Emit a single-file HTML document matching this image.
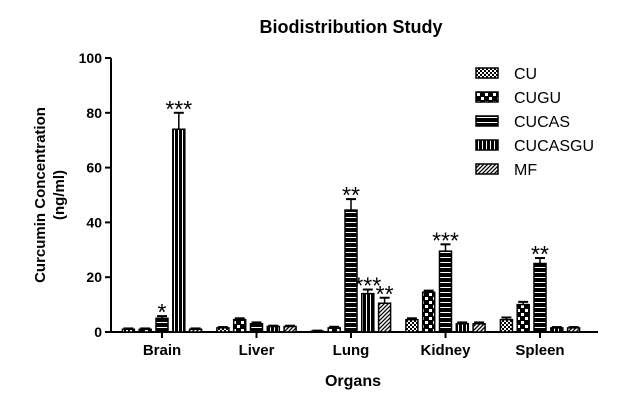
<!DOCTYPE html>
<html><head><meta charset="utf-8"><style>
body{margin:0;background:#fff}
text{font-family:"Liberation Sans",Arial,sans-serif;font-weight:bold;fill:#000}
text.n{font-weight:normal}
</style></head><body>
<svg width="618" height="402" xmlns="http://www.w3.org/2000/svg">
<defs>
<pattern id="pCU" width="4" height="4" patternUnits="userSpaceOnUse"><rect width="4" height="4" fill="#000"/><rect width="2" height="2" fill="#fff"/><rect x="2" y="2" width="2" height="2" fill="#fff"/></pattern>
<pattern id="pCUGU" width="8" height="8" patternUnits="userSpaceOnUse"><rect width="8" height="8" fill="#000"/><rect x="1" y="1" width="3" height="3" fill="#fff"/><rect x="5" y="5" width="3" height="3" fill="#fff"/></pattern>
<pattern id="pCUCAS" width="4" height="5" patternUnits="userSpaceOnUse"><rect width="4" height="5" fill="#000"/><rect y="2" width="4" height="1" fill="#fff"/></pattern>
<pattern id="pCUCASGU" width="4" height="4" patternUnits="userSpaceOnUse"><rect width="4" height="4" fill="#000"/><rect x="2" width="1" height="4" fill="#fff"/></pattern>
<pattern id="pMF" width="4" height="4" patternUnits="userSpaceOnUse"><rect width="4" height="4" fill="#fff"/><path d="M-1,1 l2,-2 M0,4 l4,-4 M3,5 l2,-2" stroke="#000" stroke-width="1.3"/></pattern>
</defs>
<text x="351" y="33" text-anchor="middle" font-size="18">Biodistribution Study</text>
<g id="axes"></g>
<g id="bars"></g>
<g id="legend"></g>
<text transform="translate(45,195) rotate(-90)" text-anchor="middle" font-size="15">Curcumin Concentration</text>
<text transform="translate(64,195) rotate(-90)" text-anchor="middle" font-size="15">(ng/ml)</text>
<text x="353" y="386" text-anchor="middle" font-size="16">Organs</text>
</svg>
<script>
const categories=["Brain","Liver","Lung","Kidney","Spleen"];
const seriesNames=["CU","CUGU","CUCAS","CUCASGU","MF"];
const CU=[1,1.5,0.3,4.5,4.5];
const CUGU=[1,4.5,1.5,14.5,10];
const CUCAS=[5,3,44.5,29.5,25];
const CUCASGU=[74,2,14,3,1.5];
const MF=[1,2,10.5,3,1.5];
const errCU=[0.3,0.3,0.2,0.5,0.8];
const errCUGU=[0.3,0.5,0.4,0.6,1];
const errCUCAS=[0.8,0.5,4,2.5,2];
const errCUCASGU=[6,0.3,1.5,0.5,0.3];
const errMF=[0.3,0.3,2,0.5,0.3];
const stars=[[null,null,"*","***",null],[null,null,null,null,null],[null,null,"**","***","**"],[null,null,"***",null,null],[null,null,"**",null,null]];
const yTicks=[0,20,40,60,80,100];
const series=[CU,CUGU,CUCAS,CUCASGU,MF];
const errs=[errCU,errCUGU,errCUCAS,errCUCASGU,errMF];
const NS="http://www.w3.org/2000/svg";
const y0=332,y1=58,xl=111,xr=598;
const ys=v=>y0-(y0-y1)*v/100;
const xc=i=>162+i*94.5;
const bx=(i,s)=>xc(i)+(s-2)*16.8;
function mk(t,a,p){const e=document.createElementNS(NS,t);for(const k in a)e.setAttribute(k,a[k]);p.appendChild(e);return e;}
const ax=document.getElementById('axes');
let l=mk('line',{x1:xl,y1:y1,x2:xl,y2:y0,stroke:'#000','stroke-width':2},ax);


l=mk('line',{x1:xl,y1:y0,x2:xr,y2:y0,stroke:'#000','stroke-width':2},ax);


yTicks.forEach(v=>{
 mk('line',{x1:xl-6,y1:ys(v),x2:xl,y2:ys(v),stroke:'#000','stroke-width':2},ax);
 const t=mk('text',{x:xl-9,y:ys(v)+5,'text-anchor':'end','font-size':14},ax);t.textContent=v;
 
 
});
categories.forEach((c,i)=>{
 mk('line',{x1:xc(i),y1:y0,x2:xc(i),y2:y0+6,stroke:'#000','stroke-width':2},ax);
 const t=mk('text',{x:xc(i),y:355,'text-anchor':'middle','font-size':15},ax);t.textContent=c;
 
 
});
const bg=document.getElementById('bars');
series.forEach((arr,s)=>{
 arr.forEach((v,i)=>{
  const x=bx(i,s),w=12,top=ys(v);
  const r=mk('rect',{x:x-w/2,y:top,width:w,height:y0-top,fill:'url(#p'+seriesNames[s]+')',stroke:'#000','stroke-width':1.5},bg);
  
  
  const et=ys(v+errs[s][i]);
  mk('line',{x1:x,y1:top,x2:x,y2:et,stroke:'#000','stroke-width':1.5},bg);
  mk('line',{x1:x-5,y1:et,x2:x+5,y2:et,stroke:'#000','stroke-width':2},bg);
  const st=stars[i][s];
  if(st){const t=mk('text',{x:x,y:et+4,'text-anchor':'middle','font-size':23,'class':'n'},bg);t.textContent=st;
   
   }
 });
});
const lg=document.getElementById('legend');
seriesNames.forEach((n,s)=>{
 const y=68+s*24;
 const g=mk('g',{},lg);
 
 
 mk('rect',{x:476,y:y,width:22,height:10,fill:'url(#p'+n+')',stroke:'#000','stroke-width':1.5},g);
 const t=mk('text',{x:514,y:y+11,'font-size':16,'class':'n'},g);t.textContent=n;
});
</script>
</body></html>
